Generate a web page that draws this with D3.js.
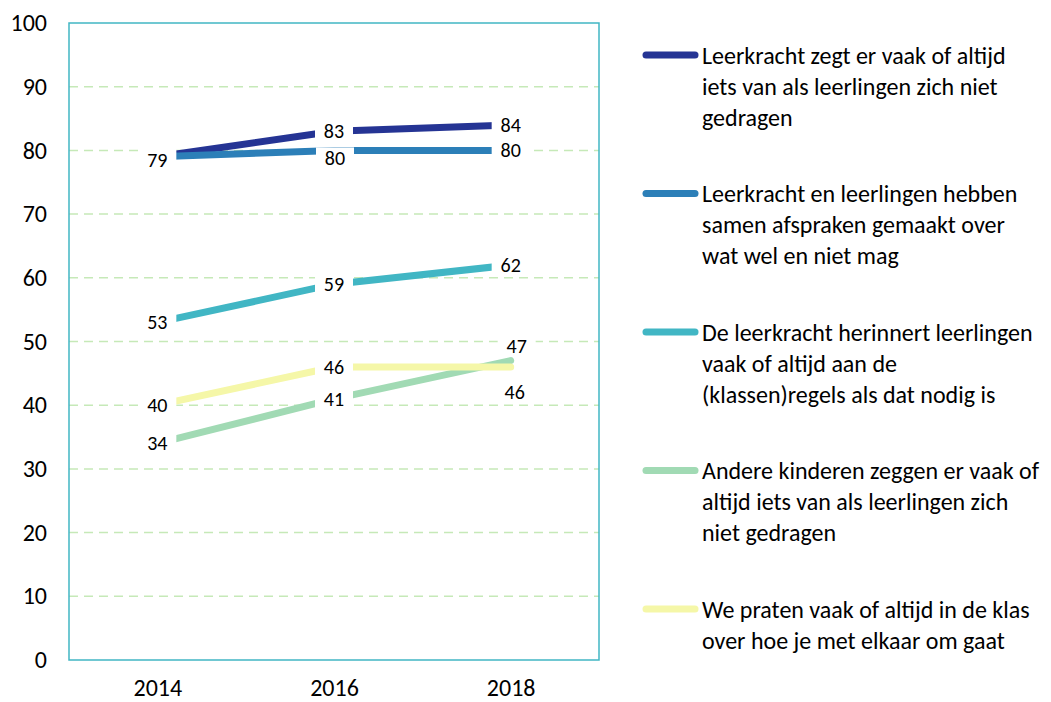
<!DOCTYPE html>
<html>
<head>
<meta charset="utf-8">
<script src="https://cdn.jsdelivr.net/npm/d3@7"></script>
<style>
  html, body { margin: 0; padding: 0; background: #fff; }
  svg text { font-family: Carlito, Lato, "Open Sans", sans-serif; fill: #000; }
</style>
</head>
<body>
<svg id="chart" width="1051" height="702"></svg>
<script>
const years = ["2014", "2016", "2018"];
const yTicks = [0, 10, 20, 30, 40, 50, 60, 70, 80, 90, 100];
const seriesNames = [
  "Leerkracht zegt er vaak of altijd iets van als leerlingen zich niet gedragen",
  "Leerkracht en leerlingen hebben samen afspraken gemaakt over wat wel en niet mag",
  "De leerkracht herinnert leerlingen vaak of altijd aan de (klassen)regels als dat nodig is",
  "Andere kinderen zeggen er vaak of altijd iets van als leerlingen zich niet gedragen",
  "We praten vaak of altijd in de klas over hoe je met elkaar om gaat"
];
const legendLines = [
  ["Leerkracht zegt er vaak of altijd", "iets van als leerlingen zich niet", "gedragen"],
  ["Leerkracht en leerlingen hebben", "samen afspraken gemaakt over", "wat wel en niet mag"],
  ["De leerkracht herinnert leerlingen", "vaak of altijd aan de", "(klassen)regels als dat nodig is"],
  ["Andere kinderen zeggen er vaak of", "altijd iets van als leerlingen zich", "niet gedragen"],
  ["We praten vaak of altijd in de klas", "over hoe je met elkaar om gaat"]
];
const valuesLeerkrachtZegt = [79, 83, 84];
const valuesAfspraken = [79, 80, 80];
const valuesHerinnert = [53, 59, 62];
const valuesAndereKinderen = [34, 41, 47];
const valuesPraten = [40, 46, 46];
const colors = ["#253494", "#2c7fb8", "#41b6c4", "#a1dab4", "#f5f7a8"];

const seriesValues = [valuesLeerkrachtZegt, valuesAfspraken, valuesHerinnert, valuesAndereKinderen, valuesPraten];

const svg = d3.select("#chart");
const plot = { left: 69, right: 599, top: 23, bottom: 660 };
const FONT = "Carlito, Lato, sans-serif";

const x = d3.scalePoint().domain(years).range([plot.left, plot.right]).padding(0.5);
const y = d3.scaleLinear().domain([0, 100]).range([plot.bottom, plot.top]);

// gridlines
svg.append("g").selectAll("line")
  .data(yTicks.filter(t => t > 0 && t < 100))
  .join("line")
  .attr("x1", plot.left).attr("x2", plot.right)
  .attr("y1", d => y(d)).attr("y2", d => y(d))
  .attr("stroke", "#c6e9b8").attr("stroke-width", 1.5)
  .attr("stroke-dasharray", "9,6");

// y axis labels
const yAxis = d3.axisLeft(y).tickValues(yTicks).tickSize(0).tickPadding(0);
const yg = svg.append("g").attr("transform", `translate(${plot.left - 22},0)`).call(yAxis);
yg.select(".domain").remove();
yg.selectAll("text").attr("font-size", 24).attr("font-family", FONT).attr("fill", "#000");

// x axis labels
const xAxis = d3.axisBottom(x).tickSize(0).tickPadding(0);
const xg = svg.append("g").attr("transform", `translate(0,${plot.bottom + 19})`).call(xAxis);
xg.select(".domain").remove();
xg.selectAll("text").attr("font-size", 24).attr("font-family", FONT).attr("fill", "#000");

// lines
const line = d3.line().x((d, i) => x(years[i])).y(d => y(d));
seriesValues.forEach((vals, si) => {
  svg.append("path")
    .attr("d", line(vals))
    .attr("fill", "none")
    .attr("stroke", colors[si])
    .attr("stroke-width", 7)
    .attr("stroke-linecap", "round")
    .attr("stroke-linejoin", "round");
});

// data labels (offsets in px relative to point)
const labelOffsets = {
  "1-1": [1, 8],
  "0-0": [0, 3], "1-0": [null, null],
  "3-2": [6, -15],
  "4-2": [4, 25]
};
const labels = [];
seriesValues.forEach((vals, si) => {
  vals.forEach((v, i) => {
    const key = si + "-" + i;
    const off = labelOffsets[key] || [0, 0];
    if (off[0] === null) return;
    labels.push({ v, px: x(years[i]) + off[0], py: y(v) + off[1] });
  });
});
const lg = svg.append("g");
labels.forEach(l => {
  lg.append("rect")
    .attr("x", l.px - 19).attr("y", l.py - 11)
    .attr("width", 38).attr("height", 22)
    .attr("fill", "#fff");
});
labels.forEach(l => {
  lg.append("text")
    .attr("x", l.px).attr("y", l.py)
    .attr("text-anchor", "middle")
    .attr("dominant-baseline", "central")
    .attr("font-size", 20)
    .text(l.v);
});

// border
svg.append("rect")
  .attr("x", plot.left).attr("y", plot.top)
  .attr("width", plot.right - plot.left).attr("height", plot.bottom - plot.top)
  .attr("fill", "none").attr("stroke", "#41b6c4").attr("stroke-width", 1.5);

// legend
const legend = svg.append("g");
seriesNames.forEach((name, si) => {
  const ly = 55 + si * 138.5;
  legend.append("line")
    .attr("x1", 646).attr("x2", 695)
    .attr("y1", ly).attr("y2", ly)
    .attr("stroke", colors[si]).attr("stroke-width", 7)
    .attr("stroke-linecap", "round");
  const t = legend.append("text")
    .attr("x", 702).attr("y", ly)
    .attr("font-size", 24);
  legendLines[si].forEach((ln, li) => {
    t.append("tspan")
      .attr("x", 702)
      .attr("y", ly + li * 31)
      .attr("dominant-baseline", "central")
      .text(ln);
  });
});
</script>
</body>
</html>
